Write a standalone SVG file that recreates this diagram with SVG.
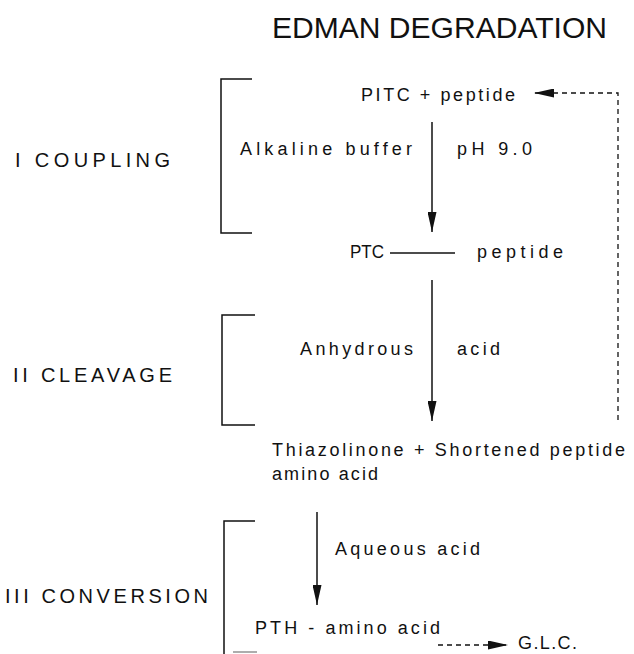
<svg xmlns="http://www.w3.org/2000/svg" width="634" height="654" viewBox="0 0 634 654">
<style>
text{font-family:"Liberation Sans","DejaVu Sans",sans-serif;fill:#111}
.t{font-size:29px}
.s{font-size:20px}
.l{font-size:18px}
.br{fill:none;stroke:#111;stroke-width:1.5}
.c{fill:none;stroke:#111;stroke-width:1.5}
.d{fill:none;stroke:#111;stroke-width:1.3;stroke-dasharray:5 4}
</style>
<defs>
<marker id="ah" markerUnits="userSpaceOnUse" markerWidth="20" markerHeight="9" viewBox="0 0 20 9" refX="20" refY="4.5" orient="auto">
<path d="M0,0 L20,4.5 L0,9 z" fill="#111"/>
</marker>
</defs>
<rect width="634" height="654" fill="#fff"/>
<g id="title"><text class="t" x="272" y="38" textLength="335" lengthAdjust="spacingAndGlyphs">EDMAN DEGRADATION</text></g>

<g id="stage-coupling">
<text class="s" x="15" y="167" textLength="155" lengthAdjust="spacing">I  COUPLING</text>
<path class="br" d="M252,79 H221 V233 H252"/>
</g>
<g id="stage-cleavage">
<text class="s" x="13" y="382" textLength="159" lengthAdjust="spacing">II CLEAVAGE</text>
<path class="br" d="M255,315 H222 V425 H255"/>
</g>
<g id="stage-conversion">
<text class="s" x="5" y="603" textLength="203" lengthAdjust="spacing">III CONVERSION</text>
<path class="br" d="M255,521 H224 V654"/>
<line x1="233" y1="652" x2="257" y2="652" stroke="#999" stroke-width="1.6"/>
</g>

<g id="pitc-peptide"><text class="l" x="361" y="101" textLength="154" lengthAdjust="spacing">PITC + peptide</text></g>
<g id="alkaline"><text class="l" x="240" y="155" textLength="172" lengthAdjust="spacing">Alkaline buffer</text></g>
<g id="ph"><text class="l" x="457" y="155" textLength="75" lengthAdjust="spacing">pH 9.0</text></g>
<g id="ptc-peptide">
<text class="l" x="350" y="258" textLength="34" lengthAdjust="spacingAndGlyphs">PTC</text>
<line x1="390" y1="253" x2="455" y2="253" stroke="#111" stroke-width="1.4"/>
<text class="l" x="477" y="258" textLength="86" lengthAdjust="spacing">peptide</text>
</g>
<g id="anhydrous"><text class="l" x="300" y="355" textLength="113" lengthAdjust="spacing">Anhydrous</text></g>
<g id="acid1"><text class="l" x="457" y="355" textLength="43" lengthAdjust="spacing">acid</text></g>
<g id="thiazolinone">
<text class="l" x="272" y="456" textLength="353" lengthAdjust="spacing">Thiazolinone + Shortened peptide</text>
<text class="l" x="272" y="480" textLength="106" lengthAdjust="spacing">amino acid</text>
</g>
<g id="aqueous"><text class="l" x="335" y="555" textLength="145" lengthAdjust="spacing">Aqueous acid</text></g>
<g id="pth"><text class="l" x="255" y="634" textLength="185" lengthAdjust="spacing">PTH - amino acid</text></g>
<g id="glc"><text class="l" x="518" y="649" textLength="59" lengthAdjust="spacing">G.L.C.</text></g>

<g id="connectors">
<line class="c" x1="432" y1="122" x2="432" y2="232" marker-end="url(#ah)"/>
<line class="c" x1="432" y1="280" x2="432" y2="421" marker-end="url(#ah)"/>
<line class="c" x1="317" y1="512" x2="317" y2="605" marker-end="url(#ah)"/>
<path class="d" d="M618,420 V93 H534" marker-end="url(#ah)"/>
<line class="d" x1="438" y1="645" x2="508" y2="645" marker-end="url(#ah)"/>
</g>
</svg>
